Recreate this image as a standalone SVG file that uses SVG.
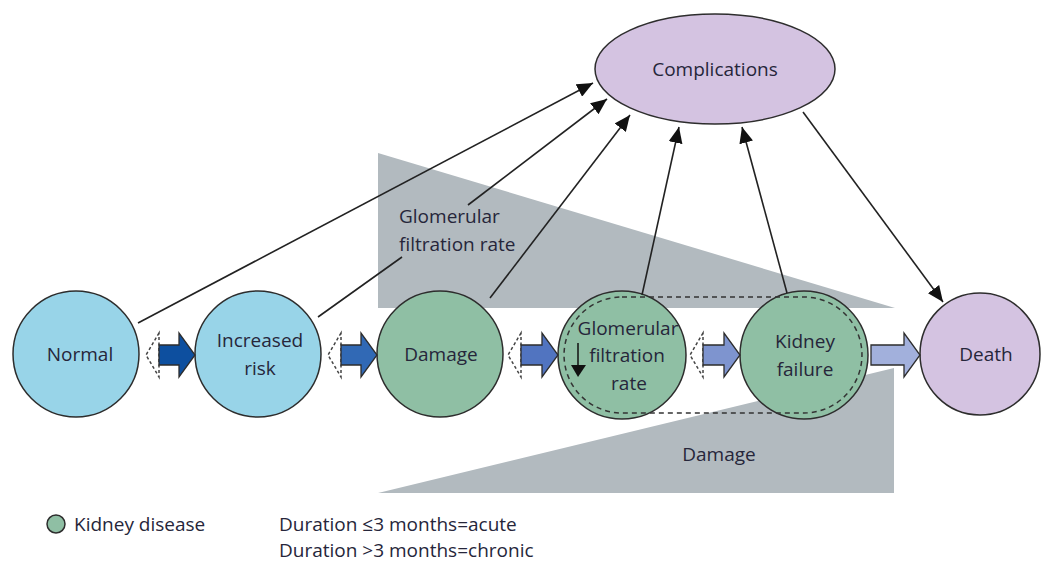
<svg xmlns="http://www.w3.org/2000/svg" width="1043" height="563" viewBox="0 0 1043 563">
<style>
  text { font-family: "Open Sans", "Noto Sans", "Liberation Sans", sans-serif; font-size: 19px; fill: #26263a; }
  .c { text-anchor: middle; }
  .blue { fill: #98d4e8; stroke: #2d2d2d; stroke-width: 1.5; }
  .green { fill: #8fbfa4; stroke: #2d2d2d; stroke-width: 1.5; }
  .lav { fill: #d4c3e1; stroke: #2d2d2d; stroke-width: 1.5; }
  .tri { fill: #b2babf; }
  .conn { stroke: #222; stroke-width: 1.6; fill: none; }
  .blk { stroke: #2d2d2d; stroke-width: 1.3; }
  .back { fill: #fff; stroke: #444; stroke-width: 1.5; stroke-dasharray: 3 2.5; }
  .dash { fill: none; stroke: #333; stroke-width: 1.5; stroke-dasharray: 5 4; }
</style>
<defs>
  <marker id="ah" markerUnits="userSpaceOnUse" markerWidth="17" markerHeight="14" refX="16" refY="7" orient="auto">
    <path d="M0,0 L16,7 L0,14 Z" fill="#111"/>
  </marker>
</defs>
<rect width="1043" height="563" fill="#fff"/>

<g id="triangles">
  <polygon class="tri" points="378,153 378,308 895,308"/>
  <polygon class="tri" points="378,493 894,493 894,368"/>
</g>

<g id="node-normal"><circle class="blue" cx="76" cy="354" r="63"/><text class="c" x="80" y="361">Normal</text></g>
<g id="node-increased-risk"><circle class="blue" cx="258" cy="354" r="63"/><text class="c" x="260" y="347">Increased</text><text class="c" x="260" y="375">risk</text></g>
<g id="node-damage"><circle class="green" cx="440" cy="354" r="63"/><text class="c" x="441" y="361">Damage</text></g>
<g id="node-gfr"><circle class="green" cx="622" cy="355" r="64"/>
  <text class="c" x="628" y="335">Glomerular</text><text class="c" x="627" y="362">filtration</text><text class="c" x="629" y="390">rate</text>
  <line x1="578" y1="343" x2="578" y2="366" stroke="#111" stroke-width="1.5"/>
  <polygon points="571,365 586,365 578,377" fill="#111"/>
</g>
<g id="node-kidney-failure"><circle class="green" cx="804" cy="355" r="64"/><text class="c" x="805" y="348">Kidney</text><text class="c" x="805" y="376">failure</text></g>
<g id="node-death"><ellipse class="lav" cx="980" cy="354" rx="60" ry="61"/><text class="c" x="986" y="361">Death</text></g>
<g id="node-complications"><ellipse class="lav" cx="715" cy="69" rx="120" ry="55"/><text class="c" x="715" y="76">Complications</text></g>

<g id="gfr-kf-bracket">
  <path class="dash" d="M622,297 L804,297 A58,58 0 0 1 804,413 L622,413 A58,58 0 0 1 622,297 Z"/>
</g>

<g id="connectors">
  <polygon class="back" points="159,333 146,355 159,377"/>
  <path class="blk" fill="#0d4f9f" d="M159,345 L179,345 L179,333 L195,355 L179,377 L179,365 L159,365 Z"/>
  <polygon class="back" points="341,333 328,355 341,377"/>
  <path class="blk" fill="#3169b5" d="M341,345 L361,345 L361,333 L377,355 L361,377 L361,365 L341,365 Z"/>
  <polygon class="back" points="521,333 508,355 521,377"/>
  <path class="blk" fill="#5174c0" d="M521,345 L542,345 L542,333 L558,355 L542,377 L542,365 L521,365 Z"/>
  <polygon class="back" points="703,333 690,355 703,377"/>
  <path class="blk" fill="#7e94cf" d="M703,345 L724,345 L724,333 L740,355 L724,377 L724,365 L703,365 Z"/>
  <path class="blk" fill="#a2b0dc" d="M871,345 L904,345 L904,333 L920,355 L904,377 L904,365 L871,365 Z"/>

  <line class="conn" x1="138" y1="323" x2="593" y2="83" marker-end="url(#ah)"/>
  <line class="conn" x1="318" y1="317" x2="402" y2="257"/>
  <line class="conn" x1="468" y1="205" x2="607" y2="99" marker-end="url(#ah)"/>
  <line class="conn" x1="490" y1="298" x2="630" y2="115" marker-end="url(#ah)"/>
  <line class="conn" x1="642" y1="295" x2="679" y2="127" marker-end="url(#ah)"/>
  <line class="conn" x1="787" y1="293" x2="742" y2="127" marker-end="url(#ah)"/>
  <line class="conn" x1="803" y1="112" x2="943" y2="302" marker-end="url(#ah)"/>
</g>

<g id="labels">
  <text x="399" y="223">Glomerular</text>
  <text x="399" y="251">filtration rate</text>
  <text class="c" x="719" y="461">Damage</text>
</g>

<g id="legend">
  <circle class="green" cx="56" cy="524" r="9"/>
  <text x="74" y="531">Kidney disease</text>
  <text x="279" y="531">Duration ≤3 months=acute</text>
  <text x="279" y="557">Duration &gt;3 months=chronic</text>
</g>
</svg>
